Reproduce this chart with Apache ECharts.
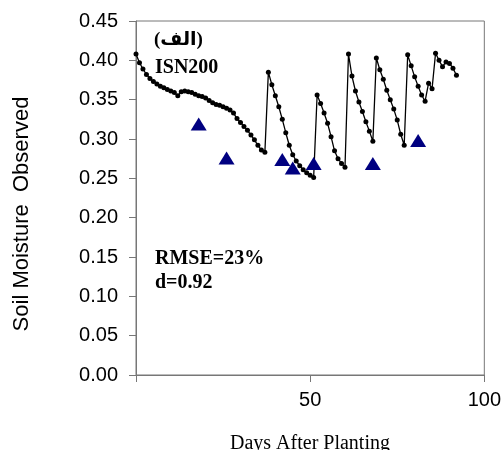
<!DOCTYPE html>
<html><head><meta charset="utf-8">
<script src="https://cdn.jsdelivr.net/npm/echarts@6/dist/echarts.min.js"></script>
<style>html,body{margin:0;padding:0;background:#fff}#c{width:504px;height:450px}</style>
</head><body><div id="c"></div>
<script>
// Simulated soil moisture, one value per day starting at day 0
const simStartDay = 0;
const simValues = [
  0.408,0.397,0.389,0.382,0.377,0.373,0.370,0.367,0.365,0.363,
  0.361,0.359,0.355,0.360,0.361,0.360,0.359,0.357,0.355,0.354,
  0.352,0.349,0.346,0.344,0.343,0.341,0.339,0.337,0.333,0.326,
  0.321,0.316,0.311,0.305,0.299,0.292,0.286,0.283,0.385,0.369,
  0.355,0.341,0.325,0.308,0.292,0.280,0.272,0.266,0.261,0.257,
  0.254,0.251,0.356,0.345,0.333,0.320,0.303,0.285,0.275,0.269,
  0.264,0.408,0.380,0.361,0.347,0.335,0.322,0.310,0.297,0.403,
  0.388,0.376,0.362,0.350,0.338,0.324,0.306,0.292,0.407,0.393,
  0.379,0.367,0.356,0.348,0.371,0.364,0.409,0.400,0.392,0.398,
  0.396,0.390,0.381
];
// Observed points
const obsDays = [18, 26, 42, 45, 51, 68, 81];
const obsValues = [0.319, 0.276, 0.274, 0.263, 0.269, 0.269, 0.298];
// Axis ticks
const xTicks = [0, 50, 100];
const yMin = 0, yMax = 0.45, yStep = 0.05;

const simData = simValues.map((v, i) => [simStartDay + i, v]);
const obsData = obsDays.map((d, i) => [d, obsValues[i]]);

const chart = echarts.init(document.getElementById('c'), null, {renderer: 'canvas'});
chart.setOption({
  animation: false,
  grid: {left: 136, right: 19, top: 21, bottom: 75, show: true, borderColor: '#777', borderWidth: 1, backgroundColor: '#fff'},
  xAxis: {
    type: 'value', min: xTicks[0], max: xTicks[2], interval: 50,
    axisLine: {onZero: false, lineStyle: {color: '#777', width: 1}},
    axisTick: {show: true, inside: false, length: 7, lineStyle: {color: '#777'}},
    splitLine: {show: false},
    axisLabel: {color: '#000', fontFamily: 'Liberation Sans, Arial', fontSize: 20, margin: 15,
      formatter: v => (v === 0 ? '' : String(v))}
  },
  yAxis: {
    type: 'value', min: yMin, max: yMax, interval: yStep,
    axisLine: {show: true, lineStyle: {color: '#777', width: 1}},
    axisTick: {show: true, inside: false, length: 7, lineStyle: {color: '#777'}},
    splitLine: {show: false},
    axisLabel: {color: '#000', fontFamily: 'Liberation Sans, Arial', fontSize: 20, margin: 18,
      formatter: v => v.toFixed(2)}
  },
  series: [
    {type: 'line', data: simData, symbol: 'circle', symbolSize: 5, showSymbol: true,
     lineStyle: {color: '#000', width: 1.3}, itemStyle: {color: '#000'}, z: 2},
    {type: 'scatter', data: obsData, symbol: 'triangle', symbolSize: [16, 13],
     itemStyle: {color: '#000080', opacity: 1}, z: 3}
  ],
  graphic: [
    {type: 'text', left: 154, top: 31, style: {text: '(الف)', font: 'bold 19px "Liberation Serif", "DejaVu Serif", "DejaVu Sans"', fill: '#000'}},
    {type: 'text', left: 155, top: 58, style: {text: 'ISN200', font: 'bold 20px "Liberation Serif", "Times New Roman"', fill: '#000'}},
    {type: 'text', left: 155, top: 249, style: {text: 'RMSE=23%', font: 'bold 20px "Liberation Serif", "Times New Roman"', fill: '#000'}},
    {type: 'text', left: 155, top: 273, style: {text: 'd=0.92', font: 'bold 20px "Liberation Serif", "Times New Roman"', fill: '#000'}},
    {type: 'text', x: 22, y: 214, rotation: Math.PI / 2,
     style: {text: 'Soil Moisture  Observed', font: '22px "Liberation Sans", Arial', fill: '#000', align: 'center', verticalAlign: 'middle'}},
    {type: 'text', x: 310, y: 434, style: {text: 'Days After Planting', font: '20px "Liberation Serif", "Times New Roman"', fill: '#000', align: 'center', verticalAlign: 'top'}}
  ]
});
</script></body></html>
